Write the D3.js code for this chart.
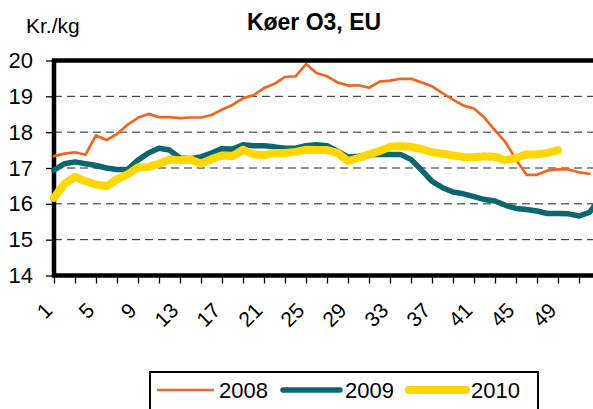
<!DOCTYPE html>
<html><head><meta charset="utf-8">
<script src="https://cdn.jsdelivr.net/npm/d3@7"></script>
<style>
html,body{margin:0;padding:0;background:#fff;overflow:hidden;}
text{font-family:"Liberation Sans",Arial,sans-serif;fill:#000;}
</style></head>
<body><svg id="c" width="593" height="409"></svg>
<script>
const title = "Køer O3, EU";
const yLabel = "Kr./kg";
const weeks = d3.range(1, 54);
const xTickLabels = [1,5,9,13,17,21,25,29,33,37,41,45,49];
const yTicks = [14,15,16,17,18,19,20];
const seriesNames = ["2008","2009","2010"];
const v2008 = [17.33,17.40,17.44,17.37,17.91,17.78,17.95,18.21,18.40,18.51,18.42,18.42,18.39,18.41,18.41,18.48,18.63,18.76,18.95,19.03,19.23,19.35,19.54,19.56,19.90,19.65,19.56,19.39,19.30,19.31,19.24,19.41,19.44,19.49,19.49,19.39,19.28,19.09,18.91,18.74,18.66,18.40,18.05,17.72,17.24,16.81,16.81,16.93,16.96,16.96,16.88,16.84];
const v2009 = [16.94,17.12,17.17,17.12,17.07,17.00,16.96,16.96,17.22,17.42,17.55,17.50,17.28,17.26,17.31,17.42,17.54,17.53,17.65,17.62,17.62,17.59,17.55,17.55,17.62,17.65,17.62,17.47,17.31,17.33,17.38,17.38,17.38,17.38,17.24,16.94,16.63,16.45,16.33,16.28,16.20,16.12,16.08,15.96,15.87,15.84,15.80,15.73,15.73,15.72,15.66,15.76,16.15];
const v2010 = [16.17,16.56,16.75,16.63,16.54,16.49,16.68,16.82,17.02,17.03,17.12,17.24,17.22,17.24,17.12,17.25,17.35,17.33,17.51,17.38,17.36,17.42,17.42,17.45,17.51,17.50,17.50,17.42,17.19,17.28,17.38,17.47,17.59,17.61,17.59,17.53,17.44,17.40,17.35,17.31,17.30,17.33,17.31,17.22,17.28,17.38,17.38,17.42,17.50];
const seriesValues = [v2008, v2009, v2010];
const colors = ["#F0661E","#0B6670","#FFD700"];
const widths = [2.7, 5.5, 8];

const svg = d3.select("#c");
const x = d3.scaleLinear().domain([1,53]).range([54,600]);
const y = d3.scaleLinear().domain([14,20]).range([275.5,60.5]);

// gridlines
svg.append("g").selectAll("line").data(yTicks.filter(d=>d>14 && d<20)).join("line")
  .attr("x1",x(1)).attr("x2",600).attr("y1",d=>y(d)).attr("y2",d=>y(d))
  .attr("stroke","#222").attr("stroke-width",1).attr("stroke-dasharray","8,5");

// y axis ticks + labels
const yAxis = d3.axisLeft(y).tickValues(yTicks).tickSize(6).tickPadding(13).tickFormat(d3.format("d"));
const gy = svg.append("g").attr("transform",`translate(${x(1)-2},0)`).call(yAxis);
gy.select(".domain").remove();
gy.selectAll("line").attr("stroke","#000").attr("stroke-width",1.3);
gy.selectAll("text").style("font-size","22px").attr("font-family","Liberation Sans, Arial, sans-serif");

// x axis ticks every 2 weeks
const xAxis = d3.axisBottom(x).tickValues(d3.range(1,54,2)).tickSize(8).tickFormat("");
const gx = svg.append("g").attr("transform",`translate(0,${y(14)})`).call(xAxis);
gx.select(".domain").remove();
gx.selectAll("line").attr("stroke","#000").attr("stroke-width",1.3);

// x labels rotated
svg.append("g").selectAll("text").data(xTickLabels).join("text")
  .attr("transform",d=>`translate(${x(d)-11},${y(14)+25.5}) rotate(-45)`)
  .attr("text-anchor","end").attr("dy","0.72em")
  .style("font-size","21px").text(d=>d);

// plot frame
svg.append("rect").attr("x",x(1)).attr("y",y(20)).attr("width",600-x(1)+4).attr("height",y(14)-y(20))
  .attr("fill","none").attr("stroke","#000").attr("stroke-width",4.5);

// lines
const line = d3.line().x((d,i)=>x(weeks[i])).y(d=>y(d));
seriesValues.forEach((vals,k)=>{
  svg.append("path").datum(vals).attr("d",line)
    .attr("fill","none").attr("stroke",colors[k]).attr("stroke-width",widths[k])
    .attr("stroke-linejoin","round").attr("stroke-linecap","round");
});

// title and y label
svg.append("text").attr("x",314).attr("y",30).attr("text-anchor","middle")
  .style("font-size","23px").style("font-weight","bold").text(title);
svg.append("text").attr("x",26).attr("y",33).style("font-size","21px").text(yLabel);

// legend
const lg = svg.append("g");
lg.append("rect").attr("x",150).attr("y",372).attr("width",388).attr("height",50)
  .attr("fill","#fff").attr("stroke","#000").attr("stroke-width",2);
const lx = [157,283,409];
seriesNames.forEach((n,k)=>{
  lg.append("line").attr("x1",lx[k]).attr("x2",lx[k]+57).attr("y1",390).attr("y2",390)
    .attr("stroke",colors[k]).attr("stroke-width",widths[k]).attr("stroke-linecap",k?"round":"butt");
  lg.append("text").attr("x",lx[k]+62).attr("y",398).style("font-size","22px").text(n);
});
</script></body></html>
